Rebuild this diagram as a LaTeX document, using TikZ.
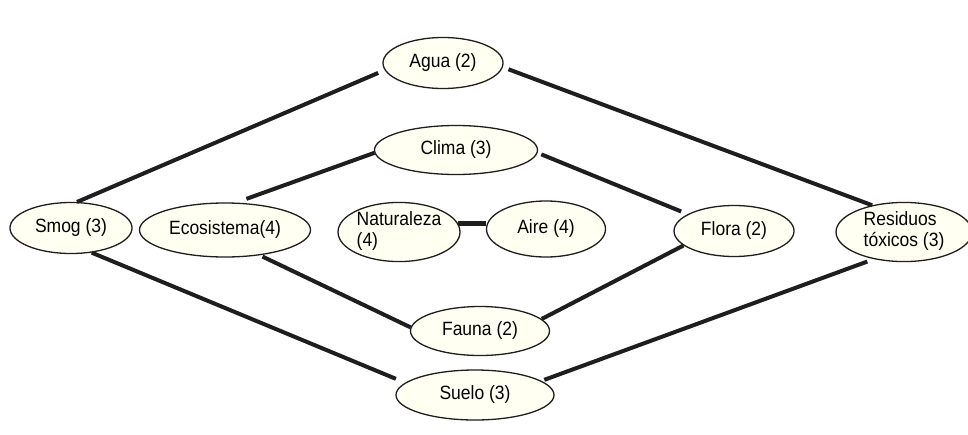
\documentclass[tikz,border=0pt]{standalone}
\usepackage{fontspec}
\usepackage{graphicx}
\setmainfont{Liberation Sans}
\usetikzlibrary{shapes.geometric}
\definecolor{cream}{HTML}{FFFFF2}
\definecolor{ink}{HTML}{1E1E1E}
\newcommand\bubtext[1]{\scalebox{1}[1.1]{\begin{tabular}{@{}l@{}}#1\end{tabular}}}
\begin{document}
\begin{tikzpicture}[x=1pt,y=-1pt,
  bubble/.style={ellipse, draw=ink, line width=1.3pt, fill=cream, inner sep=0pt,
    font=\fontsize{17.5}{19}\selectfont},
  link/.style={line width=4pt, draw=ink}]
\useasboundingbox (0,0) rectangle (968,434);
\fill[white] (0,0) rectangle (968,434);

\node[bubble, minimum width=120pt, minimum height=51pt] (agua) at (443,63) {\bubtext{Agua (2)}};
\node[bubble, minimum width=163pt, minimum height=49pt] (clima) at (456,150) {\bubtext{Clima (3)}};
\node[bubble, minimum width=122pt, minimum height=51pt] (smog) at (71,228) {\bubtext{Smog (3)}};
\node[bubble, minimum width=171pt, minimum height=54pt] (eco) at (225,230) {\bubtext{Ecosistema(4)}};
\node[bubble, minimum width=122pt, minimum height=56pt] (natur) at (399,232) {\bubtext{Naturaleza\\(4)}};
\node[bubble, minimum width=119pt, minimum height=56pt] (aire) at (546,229) {\bubtext{Aire (4)}};
\node[bubble, minimum width=120pt, minimum height=51pt] (flora) at (734,231) {\bubtext{Flora (2)}};
\node[bubble, minimum width=136pt, minimum height=58pt] (resid) at (904,232) {\bubtext{Residuos\\t\'oxicos (3)}};
\node[bubble, minimum width=139pt, minimum height=49pt] (fauna) at (480,331) {\bubtext{Fauna (2)}};
\node[bubble, minimum width=158pt, minimum height=50pt] (suelo) at (475,395) {\bubtext{Suelo (3)}};

\draw[link, shorten >=7pt] (smog.77) -- (agua.187);
\draw[link, shorten <=6pt] (agua.356) -- (resid.140);
\draw[link, shorten <=11pt] (eco.68) -- (clima.182);
\draw[link, shorten <=4pt, shorten >=7pt] (clima.358) -- (flora.160);
\draw[line width=5pt, draw=ink] (natur.8) -- (natur.8 -| aire.west);
\draw[link, shorten <=3pt] (eco.324) -- (fauna.177);
\draw[link] (flora.196) -- (fauna.11);
\draw[link, shorten >=10pt] (smog.310) -- (suelo.170);
\draw[link, shorten <=7pt, shorten >=3pt] (resid.222) -- (suelo.12);
\end{tikzpicture}
\end{document}
